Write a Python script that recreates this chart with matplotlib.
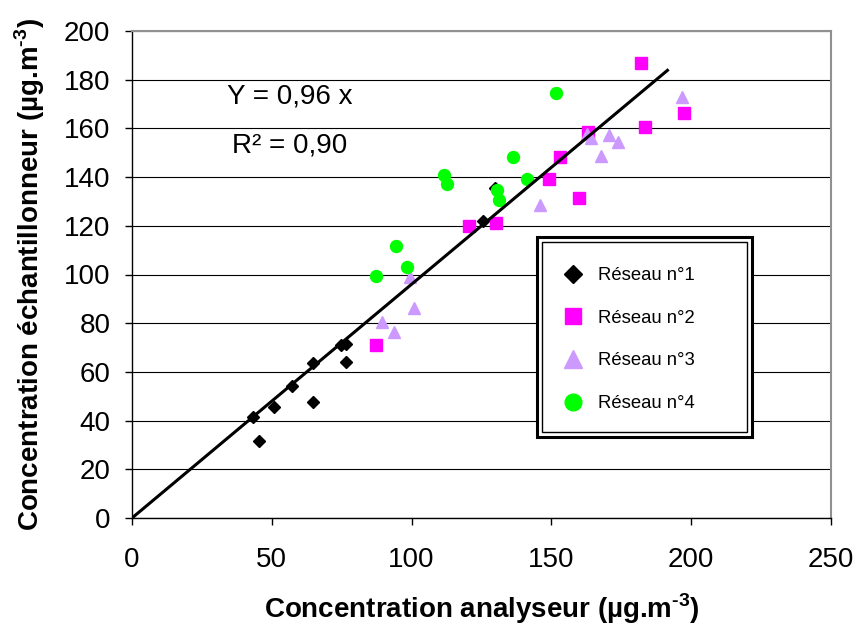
import matplotlib
matplotlib.use("Agg")
import matplotlib.pyplot as plt
from matplotlib.patches import Rectangle

plt.rcParams['font.family'] = ['Liberation Sans', 'DejaVu Sans']
plt.rcParams['mathtext.fontset'] = 'custom'
plt.rcParams['mathtext.rm'] = 'Liberation Sans'
plt.rcParams['mathtext.bf'] = 'Liberation Sans:bold'

# --- données : concentration analyseur (x) / échantillonneur (y) ---
r1_x = [43.4, 45.5, 50.9, 57.4, 64.9, 64.6, 74.6, 76.4, 76.4, 125.5, 129.8]
r1_y = [41.5, 31.6, 45.6, 54.2, 63.7, 47.6, 71.0, 71.5, 64.1, 122.0, 135.5]

r2_x = [87.4, 120.5, 130.1, 149.0, 152.9, 159.9, 163.1, 182.2, 183.4, 197.5]
r2_y = [71.0, 119.9, 121.1, 139.4, 148.2, 131.4, 158.6, 186.7, 160.5, 166.4]

r3_x = [89.4, 93.7, 99.4, 100.9, 146.0, 162.6, 164.0, 167.6, 170.6, 173.8, 196.7]
r3_y = [80.6, 76.5, 98.9, 86.1, 128.5, 157.6, 155.9, 148.7, 157.3, 154.5, 172.8]

r4_x = [87.4, 94.4, 98.3, 111.5, 112.7, 130.7, 131.2, 136.3, 141.4, 151.6]
r4_y = [99.5, 111.7, 103.1, 141.0, 137.3, 134.6, 130.6, 148.3, 139.2, 174.4]

pente = 0.96
x_fin = 191.5

fig = plt.figure(figsize=(8.58, 6.26), dpi=100)
ax = fig.add_axes([132 / 858, 1 - 518 / 626, 699 / 858, 487 / 626])

ax.plot(r1_x, r1_y, linestyle='none', marker='D', markersize=6.3,
        color='black', label='Réseau n°1', zorder=3)
ax.plot(r2_x, r2_y, linestyle='none', marker='s', markersize=8.6,
        color='#FF00FF', label='Réseau n°2', zorder=3)
ax.plot(r3_x, r3_y, linestyle='none', marker='^', markersize=9,
        color='#CC99FF', label='Réseau n°3', zorder=3)
ax.plot(r4_x, r4_y, linestyle='none', marker='o', markersize=8.6,
        color='#00FF00', label='Réseau n°4', zorder=3)

# droite de régression passant par l'origine
ax.plot([0, x_fin], [0, pente * x_fin], color='black', linewidth=2.2, zorder=4)

ax.text(56.3, 170.4, 'Y = 0,96 x', fontsize=20, ha='center', va='baseline')
ax.text(56.3, 149.9, 'R² = 0,90', fontsize=20, ha='center', va='baseline')

ax.set_xlim(0, 250)
ax.set_ylim(0, 200)
ax.set_xticks(range(0, 251, 50))
ax.set_yticks(range(0, 201, 20))
ax.tick_params(axis='both', labelsize=20, direction='out', length=5,
               width=1, color='black')
ax.tick_params(axis='x', pad=16)
ax.tick_params(axis='y', pad=10.5)

ax.yaxis.grid(True, color='black', linewidth=0.8)
ax.set_axisbelow(True)
for side in ('top', 'right'):
    ax.spines[side].set_color('#909090')
    ax.spines[side].set_linewidth(1.5)
for side in ('left', 'bottom'):
    ax.spines[side].set_color('black')
    ax.spines[side].set_linewidth(1)

ax.set_xlabel('Concentration analyseur (µg.m$^{\\mathbf{‐3}}$)',
              fontsize=20, fontweight='bold', labelpad=13)
ax.set_ylabel('Concentration échantillonneur (µg.m$^{\\mathbf{‐3}}$)',
              fontsize=20, fontweight='bold', labelpad=12)

# légende encadrée d'un double trait
x0, y0 = (537 - 132) / 699, (518 - 437) / 487
w, h = (752 - 537) / 699, (437 - 237) / 487
ax.add_patch(Rectangle((x0, y0), w, h, transform=ax.transAxes, facecolor='white',
                       edgecolor='black', linewidth=2.2, zorder=5))
dx, dy = 5 / 699, 5 / 487
ax.add_patch(Rectangle((x0 + dx, y0 + dy), w - 2 * dx, h - 2 * dy,
                       transform=ax.transAxes, facecolor='none',
                       edgecolor='black', linewidth=1, zorder=5))
leg = ax.legend(loc='upper left', bbox_to_anchor=((562 - 132) / 699, (518 - 267) / 487),
                frameon=False, fontsize=13.3, borderpad=0, borderaxespad=0,
                handlelength=1.2, handletextpad=0.76, labelspacing=1.39,
                numpoints=1, markerscale=1.4)
leg.set_zorder(6)

fig.savefig('out.png', dpi=100)
